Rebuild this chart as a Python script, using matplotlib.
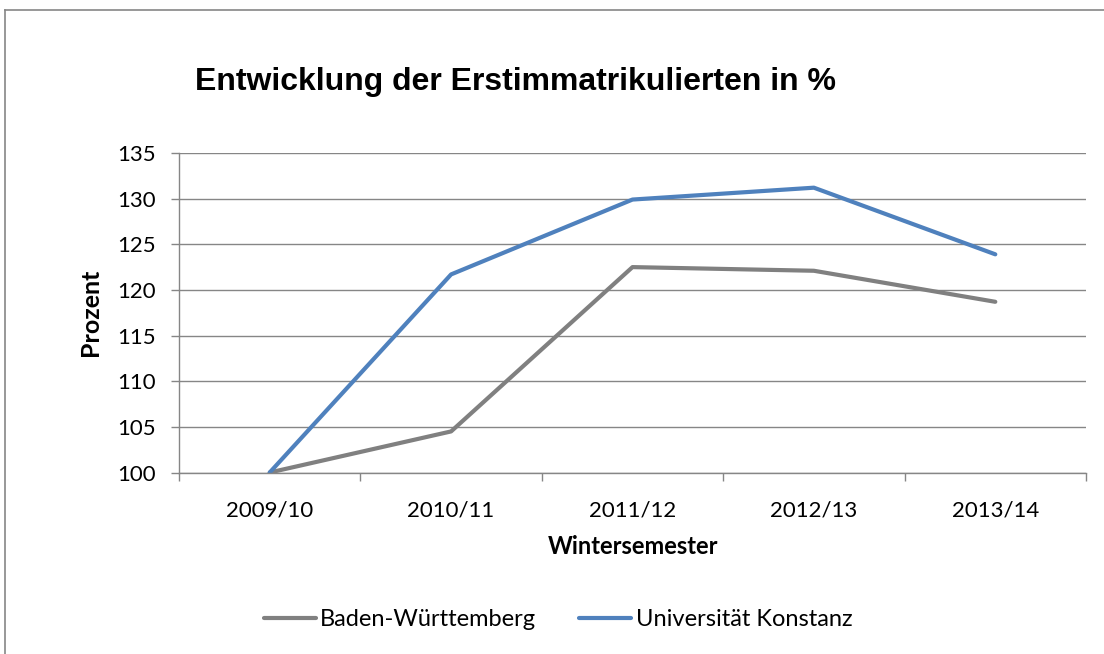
import matplotlib.pyplot as plt
from matplotlib.lines import Line2D
import numpy as np

semesters = ['2009/10', '2010/11', '2011/12', '2012/13', '2013/14']
bw_values = [100, 104.5, 122.5, 122.1, 118.7]
uk_values = [100, 121.7, 129.9, 131.2, 123.9]
y_ticks = [100, 105, 110, 115, 120, 125, 130, 135]

W, H = 1104, 654
fig = plt.figure(figsize=(W / 100, H / 100), dpi=100)
plt.rcParams['font.family'] = ['Lato', 'DejaVu Sans']

grid_col = '#868686'
ax = fig.add_axes([179 / W, 1 - 472.5 / H, (1086 - 179) / W, (472.5 - 153) / H])

x = np.arange(len(semesters))
ax.plot(x, bw_values, color='#808080', lw=3.0, solid_capstyle='round', label='Baden-Württemberg')
ax.plot(x, uk_values, color='#4F81BD', lw=3.0, solid_capstyle='round', label='Universität Konstanz')

ax.set_ylim(100, 135)
ax.set_xlim(-0.5, len(semesters) - 0.5)
ax.set_yticks(y_ticks)
ax.set_xticks(x)
ax.set_xticklabels(semesters)
ax.set_xticks(np.arange(-0.5, len(semesters)), minor=True)
ax.yaxis.grid(True, color=grid_col, lw=1.0)
ax.set_axisbelow(True)

for side in ['top', 'right']:
    ax.spines[side].set_visible(False)
for side in ['left', 'bottom']:
    ax.spines[side].set_color(grid_col)
    ax.spines[side].set_linewidth(1.0)

ax.tick_params(axis='y', direction='out', length=6, width=1.0, color=grid_col,
               labelsize=16, pad=11, labelcolor='black')
ax.tick_params(axis='x', which='major', length=0, labelsize=16, pad=20, labelcolor='black')
ax.tick_params(axis='x', which='minor', direction='out', length=6, width=1.0, color=grid_col)

fig.text(195 / W, 1 - 82 / H, 'Entwicklung der Erstimmatrikulierten in %',
         family='Liberation Sans', weight='bold', fontsize=23, ha='left', va='center')
fig.text(91 / W, 1 - 312 / H, 'Prozent', rotation=90, weight='bold', fontsize=18,
         ha='center', va='center')
fig.text(633 / W, 1 - 547 / H, 'Wintersemester', weight='bold', fontsize=17,
         ha='center', va='center')

fig.legend(loc='center', bbox_to_anchor=(558 / W, 1 - 620 / H), ncol=2, frameon=False,
           fontsize=17, handlelength=2.2, handletextpad=0.2, columnspacing=1.8)

# outer chart border (only top and left visible)
fig.add_artist(Line2D([5.5 / W, 5.5 / W], [0, 1 - 9.5 / H], transform=fig.transFigure,
                      color=grid_col, lw=1.2))
fig.add_artist(Line2D([5.5 / W, 1], [1 - 9.5 / H, 1 - 9.5 / H], transform=fig.transFigure,
                      color=grid_col, lw=1.2))

fig.savefig('out.png', dpi=100)
